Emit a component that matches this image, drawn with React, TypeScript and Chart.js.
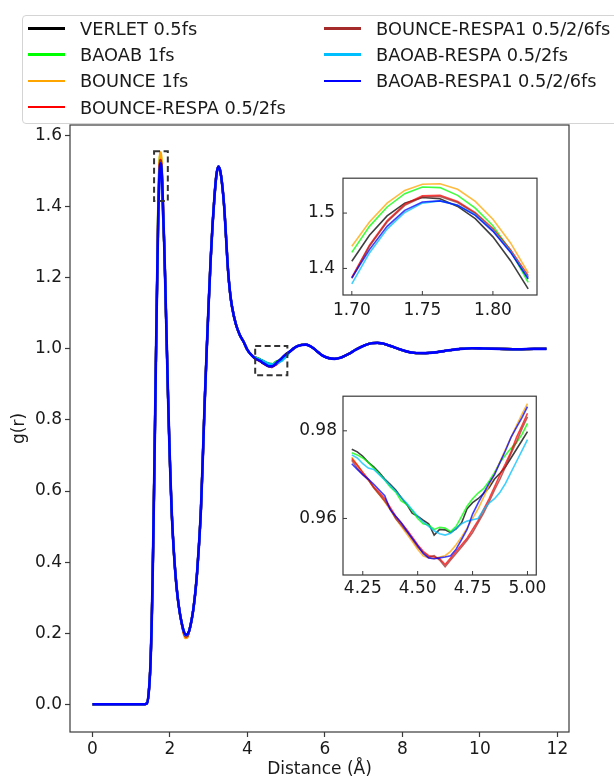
import React, { useEffect, useRef } from "react";
import { Chart, registerables } from "chart.js";

Chart.register(...registerables);

// ---------- series ----------
const seriesNames = [
  "VERLET 0.5fs",
  "BAOAB 1fs",
  "BOUNCE 1fs",
  "BOUNCE-RESPA 0.5/2fs",
  "BOUNCE-RESPA1 0.5/2/6fs",
  "BAOAB-RESPA 0.5/2fs",
  "BAOAB-RESPA1 0.5/2/6fs",
];
const seriesColors = ["#000000", "#00ff00", "#ffa500", "#ff0000", "#a52a2a", "#00bfff", "#0000ff"];

// ---------- main g(r): shared parts ----------
const riseX = [0, 0.5, 1.0, 1.3, 1.4, 1.45, 1.5, 1.525, 1.55, 1.575, 1.6, 1.625, 1.65, 1.675];
const riseG = [0, 0, 0, 0, 0.002, 0.03, 0.12, 0.21, 0.34, 0.5, 0.68, 0.87, 1.06, 1.23];

const fallX = [1.85, 1.875, 1.9, 1.925, 1.95, 1.975, 2.0, 2.025, 2.05, 2.1, 2.15, 2.2, 2.25, 2.3];
const fallG = [1.3, 1.2, 1.09, 0.98, 0.87, 0.77, 0.68, 0.6, 0.53, 0.43, 0.355, 0.3, 0.26, 0.23];

const minX = [2.35, 2.4, 2.45];

const climbX = [2.5, 2.55, 2.6, 2.65, 2.7, 2.75, 2.8, 2.85, 2.9, 2.95, 3.0, 3.05, 3.1, 3.15, 3.2, 3.25, 3.3, 3.35, 3.4, 3.45, 3.5, 3.55, 3.6, 3.7, 3.8, 3.9, 4.0, 4.1];
const climbG = [0.208, 0.232, 0.265, 0.31, 0.37, 0.45, 0.55, 0.7, 0.86, 1.0, 1.13, 1.25, 1.35, 1.43, 1.49, 1.513, 1.5, 1.46, 1.4, 1.31, 1.22, 1.16, 1.12, 1.07, 1.04, 1.02, 0.997, 0.983];

const tailX = [5.1, 5.2, 5.3, 5.4, 5.5, 5.6, 5.7, 5.8, 5.9, 6.0, 6.1, 6.25, 6.4, 6.6, 6.8, 7.0, 7.2, 7.35, 7.5, 7.7, 7.9, 8.1, 8.3, 8.6, 8.9, 9.2, 9.5, 9.8, 10.1, 10.5, 11.0, 11.4, 11.72];
const tailG = [0.993, 1.002, 1.008, 1.011, 1.012, 1.009, 1.002, 0.993, 0.984, 0.978, 0.974, 0.972, 0.975, 0.985, 0.998, 1.009, 1.016, 1.017, 1.015, 1.008, 1.0, 0.993, 0.989, 0.988, 0.991, 0.996, 1.0, 1.002, 1.001, 1.0, 0.999, 1.0, 1.0];

// ---------- first peak (inset 1) ----------
const peakX = [1.7, 1.7125, 1.725, 1.7375, 1.75, 1.7625, 1.775, 1.7875, 1.8, 1.8125, 1.825];
const peakVerlet = [1.413, 1.46, 1.495, 1.518, 1.528, 1.526, 1.512, 1.49, 1.457, 1.414, 1.363];
const peakBaoab = [1.429, 1.476, 1.511, 1.535, 1.547, 1.546, 1.532, 1.509, 1.477, 1.432, 1.375];
const peakBounce = [1.44, 1.484, 1.518, 1.541, 1.552, 1.553, 1.543, 1.521, 1.489, 1.446, 1.392];
const peakBounceRespa = [1.384, 1.442, 1.486, 1.516, 1.531, 1.532, 1.521, 1.501, 1.472, 1.434, 1.387];
const peakBounceRespa1 = [1.382, 1.44, 1.484, 1.514, 1.529, 1.53, 1.519, 1.499, 1.469, 1.431, 1.384];
const peakBaoabRespa = [1.372, 1.428, 1.471, 1.501, 1.518, 1.522, 1.514, 1.497, 1.469, 1.431, 1.383];
const peakBaoabRespa1 = [1.383, 1.434, 1.476, 1.505, 1.52, 1.522, 1.514, 1.496, 1.467, 1.429, 1.381];

// ---------- first minimum ----------
const minVerlet = [0.208, 0.196, 0.197];
const minBaoab = [0.207, 0.195, 0.196];
const minBounce = [0.2, 0.186, 0.188];
const minBounceRespa = [0.204, 0.191, 0.192];
const minBounceRespa1 = [0.204, 0.191, 0.192];
const minBaoabRespa = [0.207, 0.195, 0.196];
const minBaoabRespa1 = [0.208, 0.196, 0.197];

// ---------- third-shell well (inset 2) ----------
const wellX = [4.2, 4.225, 4.25, 4.275, 4.3, 4.325, 4.35, 4.375, 4.4, 4.425, 4.45, 4.475, 4.5, 4.525, 4.55, 4.575, 4.6, 4.625, 4.65, 4.675, 4.7, 4.725, 4.75, 4.775, 4.8, 4.825, 4.85, 4.875, 4.9, 4.925, 4.95, 4.975, 5.0];
const wellVerlet = [0.9758, 0.9752, 0.9742, 0.9728, 0.9718, 0.9705, 0.969, 0.9678, 0.9665, 0.9648, 0.9632, 0.9612, 0.9605, 0.9596, 0.9588, 0.9562, 0.9575, 0.9574, 0.9568, 0.9576, 0.959, 0.9622, 0.9636, 0.9645, 0.9657, 0.967, 0.969, 0.9703, 0.9718, 0.9738, 0.9758, 0.9778, 0.9798];
const wellBaoab = [0.975, 0.9745, 0.9738, 0.9728, 0.9715, 0.9702, 0.9688, 0.9672, 0.966, 0.964, 0.9632, 0.9618, 0.96, 0.9588, 0.9585, 0.9575, 0.958, 0.9578, 0.957, 0.9582, 0.9605, 0.9628, 0.9645, 0.9658, 0.9668, 0.9685, 0.9705, 0.9728, 0.9745, 0.976, 0.9773, 0.9792, 0.9817];
const wellBounce = [0.974, 0.9722, 0.9705, 0.9688, 0.967, 0.9655, 0.9638, 0.962, 0.96, 0.9582, 0.9565, 0.9548, 0.953, 0.9515, 0.951, 0.9508, 0.9512, 0.9515, 0.9525, 0.954, 0.9558, 0.9578, 0.96, 0.9622, 0.9648, 0.9675, 0.9702, 0.973, 0.9758, 0.9785, 0.9812, 0.9838, 0.9862];
const wellBounceRespa = [0.9737, 0.9722, 0.9705, 0.969, 0.9672, 0.966, 0.9645, 0.9625, 0.9605, 0.959, 0.9575, 0.9558, 0.954, 0.9525, 0.9515, 0.9512, 0.9508, 0.9495, 0.951, 0.9525, 0.954, 0.9555, 0.9575, 0.9595, 0.962, 0.9645, 0.9672, 0.97, 0.9725, 0.9752, 0.9785, 0.9812, 0.984];
const wellBounceRespa1 = [0.9733, 0.9715, 0.97, 0.9688, 0.967, 0.9655, 0.964, 0.9622, 0.96, 0.9585, 0.957, 0.9553, 0.9535, 0.9522, 0.9512, 0.9515, 0.9505, 0.949, 0.9505, 0.952, 0.9535, 0.955, 0.9568, 0.959, 0.9612, 0.9638, 0.9665, 0.969, 0.9718, 0.9748, 0.9775, 0.9805, 0.9832];
const wellBaoabRespa = [0.9745, 0.9738, 0.9725, 0.9715, 0.9712, 0.97, 0.9688, 0.9675, 0.9662, 0.9648, 0.9635, 0.962, 0.9605, 0.9592, 0.9582, 0.9572, 0.9565, 0.9562, 0.9566, 0.9578, 0.9588, 0.9594, 0.9597, 0.96, 0.962, 0.9635, 0.9645, 0.966, 0.968, 0.9705, 0.973, 0.9755, 0.978];
const wellBaoabRespa1 = [0.9725, 0.9712, 0.97, 0.969, 0.9678, 0.9665, 0.9652, 0.962, 0.9605, 0.959, 0.9572, 0.9555, 0.9538, 0.952, 0.951, 0.9508, 0.951, 0.9512, 0.9515, 0.953, 0.9552, 0.9575, 0.961, 0.9635, 0.9658, 0.968, 0.97, 0.9728, 0.9755, 0.9785, 0.9808, 0.983, 0.9855];

const peakSeries = [peakVerlet, peakBaoab, peakBounce, peakBounceRespa, peakBounceRespa1, peakBaoabRespa, peakBaoabRespa1];
const minSeries = [minVerlet, minBaoab, minBounce, minBounceRespa, minBounceRespa1, minBaoabRespa, minBaoabRespa1];
const wellSeries = [wellVerlet, wellBaoab, wellBounce, wellBounceRespa, wellBounceRespa1, wellBaoabRespa, wellBaoabRespa1];

// ---------- axes ----------
const mainXTicks = [0, 2, 4, 6, 8, 10, 12];
const mainYTicks = [0, 0.2, 0.4, 0.6, 0.8, 1.0, 1.2, 1.4, 1.6];
const inset1XTicks = [1.7, 1.75, 1.8];
const inset1YTicks = [1.4, 1.5];
const inset2XTicks = [4.25, 4.5, 4.75, 5.0];
const inset2YTicks = [0.96, 0.98];

// zoom boxes drawn on the main plot: [xMin, xMax, yMin, yMax]
const zoomBoxes = [
  [1.59, 1.945, 1.416, 1.556],
  [4.2, 5.03, 0.926, 1.008],
];

const zip = (xs: number[], ys: number[]) => xs.map((x, i) => ({ x, y: ys[i] }));

function mainSeries(i: number) {
  return [
    ...zip(riseX, riseG),
    ...zip(peakX, peakSeries[i]),
    ...zip(fallX, fallG),
    ...zip(minX, minSeries[i]),
    ...zip(climbX, climbG),
    ...zip(wellX, wellSeries[i]),
    ...zip(tailX, tailG),
  ];
}

const AXIS_COLOR = "#3a3a3a";
const TEXT_COLOR = "#1a1a1a";
const FONT = "'DejaVu Sans', sans-serif";

const framePlugin = {
  id: "frame",
  afterDraw(chart: any) {
    const { ctx, chartArea: a } = chart;
    ctx.save();
    ctx.strokeStyle = AXIS_COLOR;
    ctx.lineWidth = 1.2;
    ctx.strokeRect(a.left, a.top, a.right - a.left, a.bottom - a.top);
    ctx.restore();
  },
};

const inwardTicksPlugin = {
  id: "inwardTicks",
  afterDraw(chart: any) {
    const { ctx, chartArea: a, scales } = chart;
    ctx.save();
    ctx.strokeStyle = AXIS_COLOR;
    ctx.lineWidth = 1;
    ctx.beginPath();
    for (const t of scales.x.ticks) {
      const px = scales.x.getPixelForValue(t.value);
      ctx.moveTo(px, a.bottom);
      ctx.lineTo(px, a.bottom - 4);
    }
    for (const t of scales.y.ticks) {
      const py = scales.y.getPixelForValue(t.value);
      ctx.moveTo(a.left, py);
      ctx.lineTo(a.left + 4, py);
    }
    ctx.stroke();
    ctx.restore();
  },
};

const zoomBoxPlugin = {
  id: "zoomBoxes",
  afterDatasetsDraw(chart: any) {
    const { ctx, scales } = chart;
    ctx.save();
    ctx.strokeStyle = "#333333";
    ctx.lineWidth = 2;
    ctx.setLineDash([6, 3.5]);
    for (const [x0, x1, y0, y1] of zoomBoxes) {
      const l = scales.x.getPixelForValue(x0);
      const r = scales.x.getPixelForValue(x1);
      const t = scales.y.getPixelForValue(y1);
      const b = scales.y.getPixelForValue(y0);
      ctx.strokeRect(l, t, r - l, b - t);
    }
    ctx.restore();
  },
};

function setTicks(values: number[]) {
  return (scale: any) => {
    scale.ticks = values.map((v) => ({ value: v }));
  };
}

function insetConfig(
  xs: number[],
  seriesList: number[][],
  xr: [number, number],
  yr: [number, number],
  xt: number[],
  yt: number[],
  xDigits: number,
  yDigits: number,
  pad: { top: number; right: number },
  xAxisH: number,
  yAxisW: number,
  xPad: number,
  yPad: number
) {
  return {
    type: "line",
    data: {
      datasets: seriesList.map((s, i) => ({
        label: seriesNames[i],
        data: zip(xs, s),
        borderColor: seriesColors[i] + "c0",
        borderWidth: 1.6,
        pointRadius: 0,
        fill: false,
        tension: 0,
        order: 6 - i,
      })),
    },
    options: {
      animation: false,
      responsive: false,
      maintainAspectRatio: false,
      events: [],
      layout: { padding: { left: 0, right: pad.right, top: pad.top, bottom: 0 } },
      plugins: { legend: { display: false }, tooltip: { enabled: false } },
      scales: {
        x: {
          type: "linear",
          min: xr[0],
          max: xr[1],
          afterBuildTicks: setTicks(xt),
          afterFit: (s: any) => {
            s.height = xAxisH;
          },
          grid: { display: false, drawTicks: false },
          border: { display: false },
          ticks: {
            padding: xPad,
            color: TEXT_COLOR,
            font: { family: FONT, size: 17 },
            maxRotation: 0,
            autoSkip: false,
            callback: (v: any) => Number(v).toFixed(xDigits),
          },
        },
        y: {
          type: "linear",
          min: yr[0],
          max: yr[1],
          afterBuildTicks: setTicks(yt),
          afterFit: (s: any) => {
            s.width = yAxisW;
          },
          grid: { display: false, drawTicks: false },
          border: { display: false },
          ticks: {
            padding: yPad,
            color: TEXT_COLOR,
            font: { family: FONT, size: 17 },
            autoSkip: false,
            callback: (v: any) => Number(v).toFixed(yDigits),
          },
        },
      },
    },
    plugins: [framePlugin, inwardTicksPlugin],
  };
}

export default function App() {
  const mainRef = useRef<HTMLCanvasElement>(null);
  const in1Ref = useRef<HTMLCanvasElement>(null);
  const in2Ref = useRef<HTMLCanvasElement>(null);

  useEffect(() => {
    const main = new Chart(mainRef.current as HTMLCanvasElement, {
      type: "line",
      data: {
        datasets: seriesNames.map((name, i) => ({
          label: name,
          data: mainSeries(i),
          borderColor: seriesColors[i],
          borderWidth: i === 6 ? 2.6 : 2.3,
          pointRadius: 0,
          fill: false,
          cubicInterpolationMode: "monotone",
          order: 6 - i,
        })),
      },
      options: {
        animation: false,
        responsive: false,
        maintainAspectRatio: false,
        events: [],
        layout: { padding: { left: 0, right: 45, top: 125, bottom: 0 } },
        plugins: { legend: { display: false }, tooltip: { enabled: false } },
        scales: {
          x: {
            type: "linear",
            min: -0.58,
            max: 12.3,
            afterBuildTicks: setTicks(mainXTicks),
            afterFit: (s: any) => {
              s.height = 48;
            },
            grid: { display: true, drawOnChartArea: false, drawTicks: true, tickLength: 5, tickColor: AXIS_COLOR, tickWidth: 1.2 },
            border: { display: false },
            ticks: {
              padding: 2,
              color: TEXT_COLOR,
              font: { family: FONT, size: 17 },
              maxRotation: 0,
              autoSkip: false,
              callback: (v: any) => String(v),
            },
            title: {
              display: true,
              text: "Distance (Å)",
              color: TEXT_COLOR,
              font: { family: FONT, size: 17 },
              padding: { top: 0, bottom: 0 },
            },
          },
          y: {
            type: "linear",
            min: -0.078,
            max: 1.63,
            afterBuildTicks: setTicks(mainYTicks),
            afterFit: (s: any) => {
              s.width = 70;
            },
            grid: { display: true, drawOnChartArea: false, drawTicks: true, tickLength: 5, tickColor: AXIS_COLOR, tickWidth: 1.2 },
            border: { display: false },
            ticks: {
              padding: 3,
              color: TEXT_COLOR,
              font: { family: FONT, size: 17 },
              autoSkip: false,
              callback: (v: any) => Number(v).toFixed(1),
            },
            title: {
              display: true,
              text: "g(r)",
              color: TEXT_COLOR,
              font: { family: FONT, size: 17 },
              padding: { top: 9, bottom: 0 },
            },
          },
        },
      },
      plugins: [framePlugin, zoomBoxPlugin],
    } as any);

    const in1 = new Chart(
      in1Ref.current as HTMLCanvasElement,
      insetConfig(peakX, peakSeries, [1.69375, 1.83125], [1.352, 1.563], inset1XTicks, inset1YTicks, 2, 1, { top: 14, right: 13 }, 30, 53, 5, 8) as any
    );
    const in2 = new Chart(
      in2Ref.current as HTMLCanvasElement,
      insetConfig(wellX, wellSeries, [4.16, 5.04], [0.9471, 0.9879], inset2XTicks, inset2YTicks, 2, 2, { top: 10, right: 13 }, 35, 53, 3, 6) as any
    );

    return () => {
      main.destroy();
      in1.destroy();
      in2.destroy();
    };
  }, []);

  const rowCenters = [12.3, 38.6, 64.9, 91.2];
  const handleLeft = [5, 301];
  const textLeft = [57, 353];

  return (
    <div
      style={{
        position: "absolute",
        left: 0,
        top: 0,
        width: 614,
        height: 780,
        overflow: "hidden",
        background: "#ffffff",
        fontFamily: FONT,
      }}
    >
      <canvas ref={mainRef} width={614} height={780} style={{ position: "absolute", left: 0, top: 0, width: 614, height: 780 }} />
      <canvas ref={in1Ref} width={260} height={165} style={{ position: "absolute", left: 290, top: 160, width: 260, height: 165 }} />
      <canvas ref={in2Ref} width={260} height={230} style={{ position: "absolute", left: 290, top: 380, width: 260, height: 230 }} />
      <div
        style={{
          position: "absolute",
          left: 22,
          top: 15,
          width: 640,
          height: 107,
          border: "1px solid #d4d4d4",
          borderRadius: 4,
          background: "rgba(255,255,255,0.85)",
        }}
      >
        {seriesNames.map((name, i) => {
          const col = i < 4 ? 0 : 1;
          const row = i < 4 ? i : i - 4;
          const cy = rowCenters[row];
          return (
            <React.Fragment key={name}>
              <div
                style={{
                  position: "absolute",
                  left: handleLeft[col],
                  top: cy - 1.25,
                  width: 37,
                  height: 2.5,
                  background: seriesColors[i],
                }}
              />
              <div
                style={{
                  position: "absolute",
                  left: textLeft[col],
                  top: cy - 10.5,
                  height: 21,
                  lineHeight: "21px",
                  fontSize: 17.8,
                  color: TEXT_COLOR,
                  whiteSpace: "nowrap",
                  fontFamily: FONT,
                }}
              >
                {name}
              </div>
            </React.Fragment>
          );
        })}
      </div>
    </div>
  );
}
